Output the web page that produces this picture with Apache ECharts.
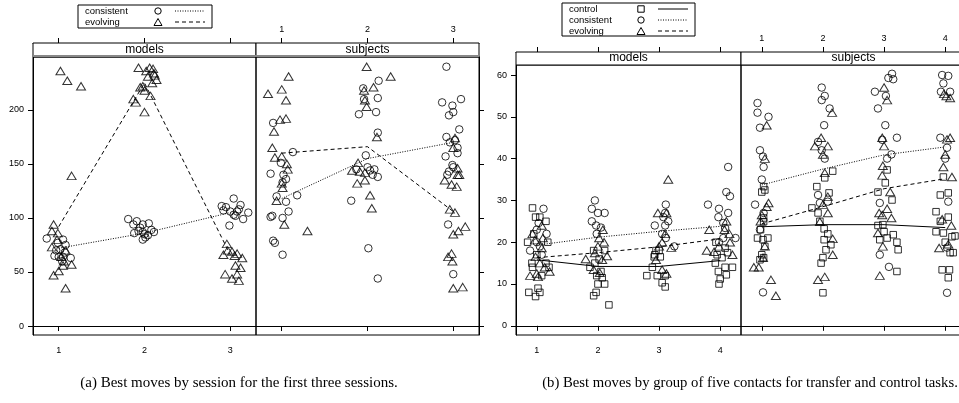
<!DOCTYPE html>
<html>
<head>
<meta charset="utf-8">
<script src="https://cdn.jsdelivr.net/npm/echarts@6/dist/echarts.min.js"></script>
<style>
  html, body { margin: 0; padding: 0; background: #fff; }
  #main { width: 959px; height: 403px; }
</style>
</head>
<body>
<div id="main"></div>
<script>
// ---- data (a): best moves by session ----
var sessions = [1, 2, 3];
var aTicks = [0, 50, 100, 150, 200];

var aModelsConsistent = [
  [0.86, 81], [1.05, 80], [0.99, 77], [1.08, 75], [0.95, 65], [1.0, 64], [1.05, 64], [1.14, 63], [1.02, 71], [1.07, 68], [0.97, 70], [1.04, 60],
  [1.81, 99], [1.91, 97], [1.87, 94], [1.98, 94], [2.05, 95], [1.95, 91], [1.88, 86], [1.98, 87], [2.04, 84], [2.11, 87], [2.01, 82], [1.98, 80], [2.08, 89], [2.0, 85], [1.93, 88],
  [3.04, 118], [2.9, 111], [2.95, 110], [3.12, 112], [3.0, 106], [3.08, 106], [2.92, 107], [3.21, 105], [3.15, 99], [2.99, 93], [3.04, 103], [3.1, 108], [3.06, 102]
];
var aModelsEvolving = [
  [1.02, 236], [1.1, 227], [1.26, 222], [1.15, 139], [0.94, 94], [0.92, 88], [0.99, 86], [0.92, 73], [0.94, 47], [1.0, 51], [1.05, 56], [1.15, 57], [1.08, 35], [1.03, 64], [1.06, 60], [0.98, 80], [1.08, 70],
  [1.93, 239], [2.06, 239], [2.1, 238], [2.11, 234], [2.04, 231], [2.14, 228], [2.09, 225], [1.95, 221], [1.98, 222], [1.87, 210], [1.9, 207], [2.07, 213], [2.0, 198], [2.02, 236], [2.12, 232], [2.0, 218],
  [2.96, 76], [2.92, 66], [3.02, 69], [3.08, 67], [3.14, 63], [3.05, 65], [3.06, 56], [3.12, 54], [2.94, 48], [3.02, 44], [3.08, 48], [3.1, 42], [2.97, 70]
];
var aSubjectsConsistent = [
  [0.9, 188], [1.13, 161], [0.99, 151], [0.87, 141], [1.01, 133], [0.94, 120], [1.05, 115], [1.18, 121], [1.08, 106], [0.87, 101], [0.89, 102], [1.01, 100], [0.9, 79], [0.92, 77], [1.01, 66], [1.02, 140], [1.05, 136],
  [2.13, 227], [1.95, 220], [2.12, 211], [1.96, 210], [1.9, 196], [2.1, 198], [2.12, 179], [1.98, 158], [2.03, 144], [2.08, 145], [2.12, 138], [1.87, 145], [1.81, 116], [2.01, 72], [2.12, 44], [2.0, 147], [2.06, 140],
  [2.92, 240], [2.87, 207], [3.09, 210], [2.99, 204], [2.95, 195], [3.0, 198], [3.07, 182], [2.92, 175], [3.05, 165], [2.91, 157], [3.05, 160], [2.99, 149], [2.95, 143], [2.93, 140], [3.0, 147], [2.94, 94], [3.0, 48], [3.02, 172], [2.96, 170]
];
var aSubjectsEvolving = [
  [1.08, 231], [0.84, 215], [1.0, 219], [1.05, 209], [0.98, 191], [1.05, 192], [0.91, 180], [0.89, 165], [0.92, 156], [1.0, 157], [1.06, 150], [1.07, 145], [1.0, 132], [1.01, 128], [0.94, 116], [1.03, 94], [1.3, 88],
  [1.99, 240], [2.27, 231], [2.07, 221], [1.96, 218], [1.97, 209], [1.99, 203], [2.11, 175], [1.89, 151], [1.82, 144], [1.97, 142], [1.88, 132], [1.97, 135], [2.03, 121], [2.05, 109], [1.91, 143],
  [3.02, 174], [3.0, 165], [3.05, 146], [3.05, 140], [2.9, 135], [2.98, 131], [3.04, 129], [3.07, 140], [2.96, 108], [3.02, 105], [3.06, 88], [3.0, 85], [3.14, 92], [2.98, 67], [2.94, 64], [2.99, 60], [3.0, 35], [3.11, 36]
];
var aModelsConsistentMean = [72, 86, 105];
var aModelsEvolvingMean = [92, 225, 66];
var aSubjectsConsistentMean = [118, 155, 170];
var aSubjectsEvolvingMean = [160, 166, 106];

// ---- data (b): best moves by group of five contacts ----
var contactGroups = [1, 2, 3, 4];
var bTicks = [0, 10, 20, 30, 40, 50, 60];

var bModelsControl = [
  [0.93, 28.2], [0.98, 26], [1.05, 26], [1.15, 25], [0.85, 20], [1.18, 20], [0.92, 15], [1.15, 15], [0.93, 14], [1.2, 14], [0.87, 8], [0.98, 7], [1.05, 8], [1.02, 9], [1.0, 17], [1.08, 12], [0.95, 22],
  [1.93, 7.2], [1.97, 8], [2.18, 5], [2.11, 10], [2.0, 10], [1.87, 14], [1.93, 18], [2.11, 18], [1.98, 12], [2.07, 11.5], [2.02, 16], [1.95, 15], [2.05, 13],
  [2.8, 12], [2.89, 14], [2.95, 18], [3.02, 16.5], [2.97, 12], [3.05, 10.3], [3.1, 9.3], [3.1, 12], [2.92, 16.5], [3.0, 18], [2.93, 17],
  [3.93, 20], [4.08, 18.6], [4.2, 14], [4.08, 14], [3.97, 13], [4.1, 12.2], [3.98, 10], [3.92, 15], [4.03, 16.3], [4.0, 11.2], [3.95, 17], [4.12, 17.5]
];
var bModelsConsistent = [
  [1.11, 28], [1.03, 24.6], [1.16, 22], [0.89, 18], [1.0, 20], [1.08, 17], [1.0, 23], [1.05, 19],
  [1.95, 30], [1.9, 28], [2.0, 27], [2.11, 27], [1.9, 25], [1.97, 24], [1.98, 22], [2.05, 23.5],
  [3.11, 29], [2.93, 24], [3.1, 24], [3.1, 27], [3.07, 26], [3.15, 25], [3.11, 21], [3.25, 19], [3.05, 22],
  [4.13, 38], [4.1, 32], [4.16, 31], [3.8, 29], [3.98, 28], [4.13, 27], [3.97, 26], [4.05, 24.6], [4.25, 21], [4.08, 23.4], [4.05, 21], [3.98, 20]
];
var bModelsEvolving = [
  [1.08, 24], [0.93, 22], [0.89, 12], [1.02, 11.7], [1.21, 13], [0.98, 16.5], [1.08, 18.6], [0.97, 20.5], [1.05, 15], [1.13, 14], [1.1, 21], [1.0, 12.5],
  [2.08, 23], [2.1, 20], [1.8, 16], [2.15, 16.7], [2.0, 19], [1.95, 17.4], [2.07, 15.8], [1.93, 13.4], [2.03, 12.7], [2.02, 21],
  [3.15, 35], [2.98, 27], [3.12, 27], [3.1, 22], [3.05, 20], [3.2, 18.7], [2.95, 15.8], [3.05, 13.4], [3.12, 12.5], [3.0, 19],
  [3.82, 23], [4.1, 25], [4.07, 23], [4.16, 20], [3.78, 18], [4.2, 17], [3.98, 19], [3.9, 17.7], [4.15, 22]
];
var bSubjectsControl = [
  [1.03, 33.3], [1.0, 32], [1.05, 32.5], [0.93, 21], [1.1, 21], [1.02, 20.6], [1.0, 17], [1.03, 16.3], [0.97, 15.8], [1.03, 24.9], [1.03, 25.8], [0.98, 23], [1.05, 19],
  [2.16, 37], [2.03, 35.4], [1.9, 33.3], [2.1, 31.8], [1.82, 28.2], [1.92, 27], [2.02, 23.2], [2.02, 20.6], [2.13, 19.4], [2.05, 18.2], [2.0, 16.3], [1.97, 15], [2.0, 7.9], [2.08, 22], [1.95, 25],
  [3.05, 37.3], [3.02, 34.2], [2.9, 32], [3.13, 30.1], [2.98, 24.2], [2.9, 24], [3.15, 21.8], [3.05, 21], [3.21, 20], [3.23, 18.2], [3.21, 13], [2.93, 20.6], [3.0, 22.5],
  [3.97, 35.6], [3.92, 31.3], [4.05, 31.8], [3.85, 27.3], [3.92, 25], [4.05, 26], [3.97, 22.2], [3.85, 22.5], [4.11, 21.3], [4.16, 21.5], [3.95, 13.4], [4.07, 13.4], [4.05, 11.5], [4.08, 17.5], [4.13, 17.5], [4.0, 20]
];
var bSubjectsConsistent = [
  [0.93, 53.3], [0.93, 51], [1.11, 50], [0.97, 47.4], [0.97, 42], [1.02, 40.5], [1.03, 38], [0.89, 29], [1.03, 27], [0.97, 23], [1.02, 8], [1.0, 35],
  [1.98, 57], [2.03, 55], [1.98, 54], [2.11, 52], [2.02, 48], [1.92, 44], [1.98, 42], [2.03, 40], [1.92, 31.3], [1.95, 29.4], [2.08, 29.7],
  [3.13, 60.3], [3.07, 59.3], [3.15, 59], [2.85, 56], [3.03, 55], [2.9, 52], [3.02, 48], [3.21, 45], [2.97, 44.5], [3.12, 41], [2.93, 29.4], [2.93, 17], [3.08, 14.1], [3.05, 40],
  [3.95, 60], [4.05, 59.8], [3.97, 58], [3.93, 56], [4.08, 56], [3.92, 45], [4.03, 42.6], [4.05, 29.7], [4.03, 7.9], [4.03, 18.7], [4.0, 40]
];
var bSubjectsEvolving = [
  [1.08, 48], [1.05, 40], [1.11, 29.4], [1.08, 28.5], [0.98, 25], [1.05, 19], [1.02, 16.3], [0.87, 14], [0.95, 14], [1.15, 11], [1.23, 7.2], [1.0, 26.5],
  [2.15, 51], [1.97, 45], [1.87, 43], [2.08, 43], [2.0, 41], [2.03, 36.6], [2.08, 30.9], [2.0, 29], [2.08, 27], [1.95, 24.9], [2.16, 20.8], [2.16, 17], [2.03, 11.7], [1.92, 11],
  [3.0, 57], [3.05, 54], [2.97, 45], [3.0, 43], [2.98, 38.3], [2.97, 36], [3.1, 32], [2.92, 27], [2.97, 26.5], [3.12, 25.8], [2.9, 22.2], [2.98, 19], [2.93, 12], [3.05, 28],
  [4.02, 55], [4.08, 54.5], [3.98, 55.5], [4.08, 45], [4.03, 44.6], [4.0, 41], [3.97, 38], [4.11, 35.6], [4.1, 24], [3.95, 25.5], [3.9, 18.6], [4.05, 19.5]
];
var bModelsControlMean = [15.8, 14.2, 14.2, 15.6];
var bModelsConsistentMean = [19.3, 21.2, 22.6, 23.8];
var bModelsEvolvingMean = [16.3, 17.5, 18.9, 20.8];
var bSubjectsControlMean = [23.7, 24.2, 24.2, 23.5];
var bSubjectsConsistentMean = [33.7, 37.5, 40.9, 42.8];
var bSubjectsEvolvingMean = [24.4, 28.5, 32.8, 35.2];

var captionA = '(a) Best moves by session for the first three sessions.';
var captionB = '(b) Best moves by group of five contacts for transfer and control tasks.';

// ---- styles ----
var FONT = '"Liberation Sans", Arial, Helvetica, sans-serif';
var SERIF = '"Liberation Serif", "Times New Roman", serif';
var look = {
  control:    { symbol: 'rect',     size: 6.5,    line: 'solid' },
  consistent: { symbol: 'circle',   size: 7.5,    line: [1, 1.5] },
  evolving:   { symbol: 'triangle', size: [9, 7.5], line: [4, 3] }
};

// 4 lattice panels (a-models, a-subjects, b-models, b-subjects)
var panels = [
  { left: 33,  top: 57, width: 223, height: 278, strip: 14, name: 'models',   xr: [0.7, 3.3],   yr: [-8.3, 249], xs: sessions,      ys: aTicks, outer: 'bottom', gray: true,
    groups: [['consistent', aModelsConsistent, aModelsConsistentMean], ['evolving', aModelsEvolving, aModelsEvolvingMean]] },
  { left: 256, top: 57, width: 223, height: 278, strip: 14, name: 'subjects', xr: [0.7, 3.3],   yr: [-8.3, 249], xs: sessions,      ys: aTicks, outer: 'top', gray: true,
    groups: [['consistent', aSubjectsConsistent, aSubjectsConsistentMean], ['evolving', aSubjectsEvolving, aSubjectsEvolvingMean]] },
  { left: 516, top: 65, width: 225, height: 270, strip: 13, name: 'models',   xr: [0.66, 4.34], yr: [-2.2, 62.4], xs: contactGroups, ys: bTicks, outer: 'bottom', gray: false,
    groups: [['control', bModelsControl, bModelsControlMean], ['consistent', bModelsConsistent, bModelsConsistentMean], ['evolving', bModelsEvolving, bModelsEvolvingMean]] },
  { left: 741, top: 65, width: 225, height: 270, strip: 13, name: 'subjects', xr: [0.66, 4.34], yr: [-2.2, 62.4], xs: contactGroups, ys: bTicks, outer: 'top', gray: false,
    groups: [['control', bSubjectsControl, bSubjectsControlMean], ['consistent', bSubjectsConsistent, bSubjectsConsistentMean], ['evolving', bSubjectsEvolving, bSubjectsEvolvingMean]] }
];

var grids = [], xAxes = [], yAxes = [], series = [], graphics = [];

panels.forEach(function (p, i) {
  grids.push({ left: p.left, top: p.top, width: p.width, height: p.height, show: true,
    borderColor: '#000', borderWidth: 1, backgroundColor: 'transparent', containLabel: false, outerBoundsMode: 'none' });

  ['bottom', 'top'].forEach(function (pos) {
    var labelled = pos === p.outer;
    xAxes.push({
      type: 'value', gridIndex: i, position: pos, min: p.xr[0], max: p.xr[1],
      offset: pos === 'top' ? p.strip : 0,
      splitLine: { show: false },
      axisLine: { show: true, lineStyle: { color: '#000', width: 1 } },
      axisTick: { show: true, length: 5, customValues: p.xs, lineStyle: { color: '#000' } },
      axisLabel: { show: labelled, customValues: p.xs, margin: pos === 'top' ? 9 : 11,
        fontFamily: FONT, fontSize: 9, color: '#000' }
    });
  });

  var isModels = p.name === 'models';
  yAxes.push({
    type: 'value', gridIndex: i, position: isModels ? 'left' : 'right', min: p.yr[0], max: p.yr[1],
    splitLine: { show: false },
    axisLine: { show: true, lineStyle: { color: '#000', width: 1 } },
    axisTick: { show: true, length: 5, customValues: p.ys, lineStyle: { color: '#000' } },
    axisLabel: { show: isModels, customValues: p.ys, margin: 9, fontFamily: FONT, fontSize: 9, color: '#000' }
  });

  p.groups.forEach(function (g) {
    var st = look[g[0]];
    series.push({
      name: g[0], type: 'scatter', xAxisIndex: i * 2, yAxisIndex: i,
      symbol: st.symbol, symbolSize: st.size,
      itemStyle: { color: 'rgba(0,0,0,0)', borderColor: '#000', borderWidth: 1 },
      data: g[1], silent: true, z: 2
    });
    series.push({
      name: g[0] + ' mean', type: 'line', xAxisIndex: i * 2, yAxisIndex: i,
      showSymbol: false, symbol: 'none',
      lineStyle: { color: '#000', width: 1, type: st.line },
      data: p.xs.map(function (x, k) { return [x, g[2][k]]; }), silent: true, z: 3
    });
  });

  // strip with panel name
  graphics.push({ type: 'rect', shape: { x: p.left, y: p.top - p.strip, width: p.width, height: p.strip },
    style: { fill: '#fff', stroke: '#000', lineWidth: 1 }, z: 1 });
  if (p.gray) {
    graphics.push({ type: 'line', shape: { x1: p.left, y1: p.top - 1, x2: p.left + p.width, y2: p.top - 1 },
      style: { stroke: '#888', lineWidth: 2 }, z: 2 });
  }
  graphics.push({ type: 'text', x: p.left + p.width / 2, y: p.top - p.strip / 2 - 0.5,
    style: { text: p.name, fontFamily: FONT, fontSize: 12, fill: '#000', textAlign: 'center', textVerticalAlign: 'middle' }, z: 3 });
});

// legend boxes
function legendBox(x, y, w, h, rows) {
  graphics.push({ type: 'rect', shape: { x: x, y: y, width: w, height: h },
    style: { fill: '#fff', stroke: '#000', lineWidth: 1 } });
  rows.forEach(function (r, k) {
    var cy = y + 6 + k * 11;
    var sx = x + w - 54, lx = x + w - 37;
    graphics.push({ type: 'text', x: x + 7, y: cy,
      style: { text: r, fontFamily: FONT, fontSize: 9.5, fill: '#000', textVerticalAlign: 'middle' } });
    var sym = look[r].symbol;
    if (sym === 'circle') {
      graphics.push({ type: 'circle', shape: { cx: sx, cy: cy, r: 3.2 }, style: { fill: 'none', stroke: '#000', lineWidth: 1 } });
    } else if (sym === 'triangle') {
      graphics.push({ type: 'polygon', shape: { points: [[sx, cy - 3.5], [sx - 4, cy + 3.5], [sx + 4, cy + 3.5]] },
        style: { fill: 'none', stroke: '#000', lineWidth: 1 } });
    } else {
      graphics.push({ type: 'rect', shape: { x: sx - 3.2, y: cy - 3.2, width: 6.4, height: 6.4 },
        style: { fill: 'none', stroke: '#000', lineWidth: 1 } });
    }
    var dash = look[r].line === 'solid' ? null : look[r].line;
    graphics.push({ type: 'line', shape: { x1: lx, y1: cy, x2: lx + 30, y2: cy },
      style: { stroke: '#000', lineWidth: 1, lineDash: dash } });
  });
}
legendBox(78, 5, 134, 23, ['consistent', 'evolving']);
legendBox(562, 3, 133, 33, ['control', 'consistent', 'evolving']);

// captions
graphics.push({ type: 'text', x: 239, y: 383,
  style: { text: captionA, fontFamily: SERIF, fontSize: 15, fill: '#000', textAlign: 'center', textVerticalAlign: 'middle' } });
graphics.push({ type: 'text', x: 750, y: 383,
  style: { text: captionB, fontFamily: SERIF, fontSize: 14.7, fill: '#000', textAlign: 'center', textVerticalAlign: 'middle' } });

var chart = echarts.init(document.getElementById('main'), null, { renderer: 'canvas' });
chart.setOption({
  backgroundColor: '#fff',
  animation: false,
  grid: grids,
  xAxis: xAxes,
  yAxis: yAxes,
  series: series,
  graphic: { elements: graphics }
});
</script>
</body>
</html>
